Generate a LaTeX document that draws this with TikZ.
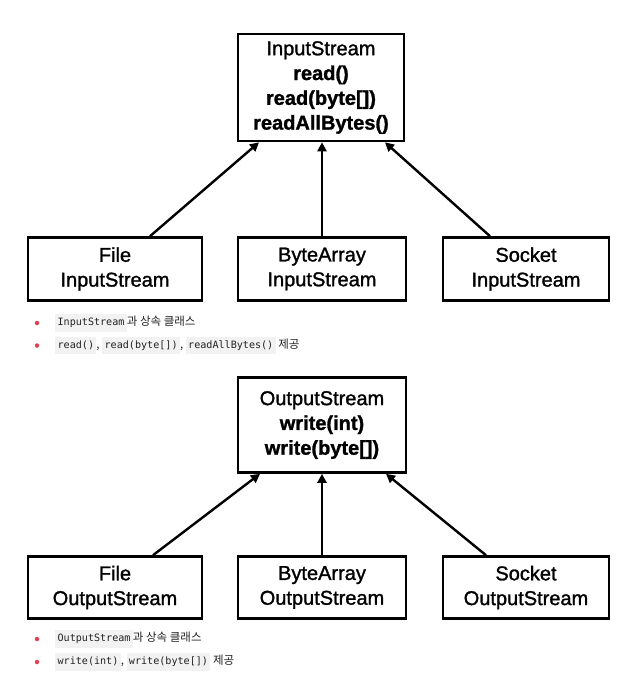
\documentclass[tikz,border=0pt]{standalone}
\usepackage{fontspec}
\setmainfont{Liberation Sans}
\setmonofont{DejaVu Sans Mono}
\newfontfamily\krfont{Noto Sans CJK KR}
\newfontfamily\medfont[FakeBold=1.3]{Liberation Sans}
\usetikzlibrary{arrows.meta}
\definecolor{codebg}{HTML}{F2F2F2}
\definecolor{bulletred}{HTML}{E0414F}
\definecolor{txt}{HTML}{222222}
\newcommand\mycode[1]{{\setlength{\fboxsep}{2.4pt}\colorbox{codebg}{\strut\ttfamily\fontsize{10.1}{12}\selectfont #1}}}
\begin{document}
\begin{tikzpicture}[x=1pt,y=-1pt,
  cls/.style={draw=black,line width=2.6pt,align=center,inner sep=0pt,
    font=\medfont\fontsize{20}{24.8}\selectfont,text=black},
  arr/.style={line width=2.4pt,-{Triangle[length=9pt,width=9pt]}},
  bulletdot/.style={circle,fill=bulletred,inner sep=0pt,minimum size=4.5pt},
  btext/.style={anchor=west,inner sep=0pt,font=\krfont\fontsize{11.5}{13}\selectfont,text=txt}
]
\useasboundingbox[fill=white] (0,0) rectangle (640,686);

% ---- Input ----
\node[cls,minimum width=166pt,minimum height=107pt] (in) at (321,87.5)
  {InputStream\\\textbf{read()}\\\textbf{read(byte[])}\\\textbf{readAllBytes()}};
\node[cls,minimum width=174pt,minimum height=63pt] (fin) at (115,269) {File\\InputStream};
\node[cls,minimum width=168pt,minimum height=63pt] (bin) at (322,269) {ByteArray\\InputStream};
\node[cls,minimum width=166pt,minimum height=63pt] (sin) at (526,269) {Socket\\InputStream};
\draw[arr] ([xshift=35pt]fin.north) -- ([xshift=-62pt]in.south);
\draw[arr] (bin.north) -- (bin.north |- in.south);
\draw[arr] ([xshift=-36pt]sin.north) -- ([xshift=64pt]in.south);

\node[bulletdot] (b1) at (37,323) {};
\node[btext] (t1) at (55,323) {\mycode{InputStream}과 상속 클래스};
\node[bulletdot] (b2) at (37,345.5) {};
\node[btext] (t2) at (55,345.5) {\mycode{read()}, \mycode{read(byte[])}, \mycode{readAllBytes()} 제공};

% ---- Output ----
\node[cls,minimum width=168pt,minimum height=95pt] (out) at (322,425)
  {OutputStream\\\textbf{write(int)}\\\textbf{write(byte[])}};
\node[cls,minimum width=174pt,minimum height=62pt] (fout) at (115,587.5) {File\\OutputStream};
\node[cls,minimum width=168pt,minimum height=62pt] (bout) at (322,587.5) {ByteArray\\OutputStream};
\node[cls,minimum width=166pt,minimum height=62pt] (sout) at (526,587.5) {Socket\\OutputStream};
\draw[arr] ([xshift=38pt]fout.north) -- ([xshift=-62pt]out.south);
\draw[arr] (bout.north) -- (bout.north |- out.south);
\draw[arr] ([xshift=-40pt]sout.north) -- ([xshift=64pt]out.south);

\node[bulletdot] (b3) at (37,639) {};
\node[btext] (t3) at (55,639) {\mycode{OutputStream}과 상속 클래스};
\node[bulletdot] (b4) at (37,662) {};
\node[btext] (t4) at (55,662) {\mycode{write(int)}, \mycode{write(byte[])} 제공};
\end{tikzpicture}
\end{document}
